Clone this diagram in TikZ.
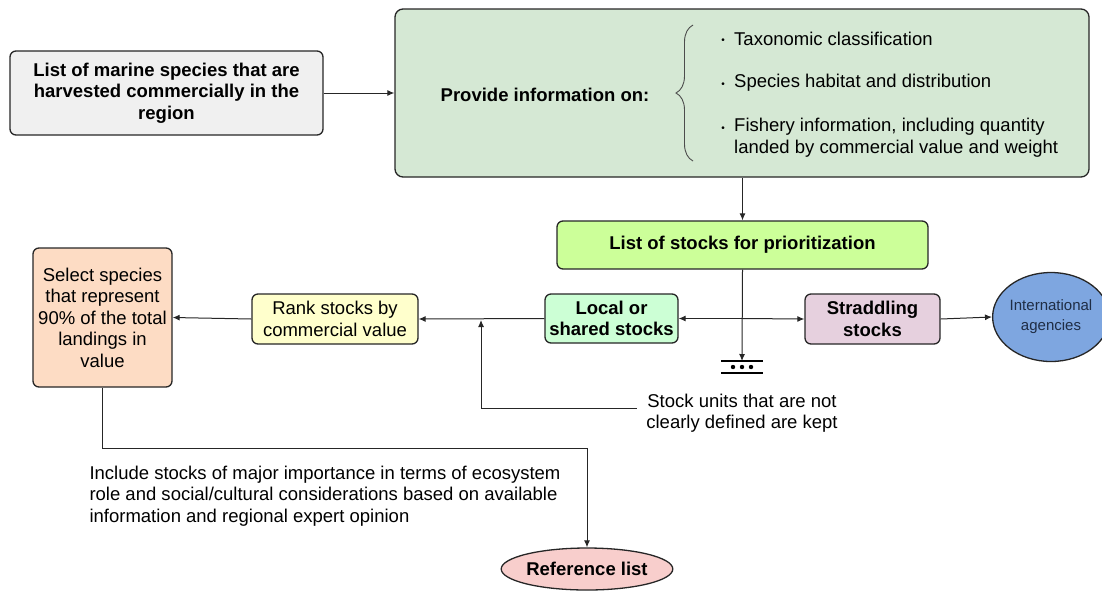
\documentclass[tikz,border=0pt]{standalone}
\usepackage{fontspec}
\setmainfont{Liberation Sans}
\usepackage{tikz}
\usetikzlibrary{shapes,arrows.meta,positioning,calc,decorations.pathreplacing}

\definecolor{speciesfill}{HTML}{F0F0F0}
\definecolor{infofill}{HTML}{D5E8D4}
\definecolor{stocksfill}{HTML}{CCFF99}
\definecolor{localfill}{HTML}{CCFFD5}
\definecolor{straddlefill}{HTML}{E6D0DE}
\definecolor{agencyfill}{HTML}{7EA6E0}
\definecolor{agencytext}{HTML}{1F2D45}
\definecolor{rankfill}{HTML}{FFFFCC}
\definecolor{selectfill}{HTML}{FDDCC4}
\definecolor{reffill}{HTML}{F8CECC}

\begin{document}
\begin{tikzpicture}[
    x=1pt, y=-1pt,
    txt/.style={font=\fontsize{18.5}{21.5}\selectfont},
    bold/.style={font=\fontsize{18.5}{21.5}\selectfont\bfseries},
    box/.style={rectangle, draw=black!85, line width=1.3pt, rounded corners=6pt, align=center, inner sep=0pt},
    oval/.style={ellipse, draw=black!85, line width=1.3pt, align=center, inner sep=0pt},
    item/.style={txt, anchor=west, align=left, inner sep=0pt},
    dot/.style={font=\fontsize{10}{10}\selectfont, inner sep=0pt},
    line/.style={draw=black!85, -{Latex[length=7pt,width=6pt]}, line width=1pt}
]
    \useasboundingbox (0,0) rectangle (1102,590);

    % top row
    \node [box, bold, fill=speciesfill, minimum width=313pt, minimum height=84pt] (species) at (166.5,93) {List of marine species that are\\harvested commercially in the\\region};
    \node [box, fill=infofill, rounded corners=8pt, minimum width=694pt, minimum height=168pt] (info) at (742,93) {};
    \node [bold] (provide) at (545,95) {Provide information on:};

    \node [dot] (d1) at (723,41) {\textbullet};
    \node [dot] (d2) at (723,85) {\textbullet};
    \node [dot] (d3) at (723,129) {\textbullet};
    \node [item] (taxo) at (734,39) {Taxonomic classification};
    \node [item] (habitat) at (734,83) {Species habitat and distribution};
    \node [item] (fishery) at (734,137.5) {Fishery information, including quantity\\landed by commercial value and weight};
    \draw [line width=0.9pt, draw=black!70, decorate, decoration={brace, amplitude=17pt, aspect=0.5}] (693,161) -- (693,25);

    % middle row
    \node [box, bold, fill=stocksfill, minimum width=371pt, minimum height=48pt] (stocks) at (742.5,245) {List of stocks for prioritization};
    \node [box, bold, fill=localfill, minimum width=133pt, minimum height=49pt] (local) at (611.5,318.5) {Local or\\shared stocks};
    \node [box, bold, fill=straddlefill, minimum width=135pt, minimum height=50pt] (straddle) at (872.5,319) {Straddling\\stocks};
    \node [oval, fill=agencyfill, text=agencytext, minimum width=100pt, minimum height=89pt, font=\fontsize{15}{20}\selectfont] (agency) at (1051,317) {International\\agencies};
    \node [box, txt, fill=rankfill, minimum width=166pt, minimum height=50pt] (rank) at (335,319) {Rank stocks by\\commercial value};
    \node [box, txt, fill=selectfill, minimum width=139pt, minimum height=139pt] (select) at (102.5,317.5) {Select species\\that represent\\90\% of the total\\landings in\\value};

    \node [txt, align=center] (kept) at (742,413) {Stock units that are not\\clearly defined are kept};
    \node [txt, align=left, anchor=west] (include) at (86,496) {Include stocks of major importance in terms of ecosystem\\role and social/cultural considerations based on available\\information and regional expert opinion};
    \node [oval, bold, fill=reffill, minimum width=168pt, minimum height=42pt] (ref) at (587,569) {Reference list};

    \coordinate (split) at (stocks.south |- local.east);
    \coordinate (merge) at (481,320);
    \coordinate (gnd) at (742,361);
    \coordinate (bend) at (587,448);

    % connectors
    \draw [line] (species.east) -- (info.west |- species.east);
    \draw [line] (info.south -| stocks.north) -- (stocks.north);
    \draw [line] (stocks.south) -- (gnd);
    \draw [line] (split) -- (local.east);
    \draw [line] (split) -- (straddle.west);
    \draw [line] (straddle.east) -- (agency.west);
    \draw [line] (local.west) -- (rank.east);
    \draw [line] (rank.west) -- (select.east);
    \draw [line] ([xshift=-6pt,yshift=5pt]kept.west) -| (merge);
    \draw [line] (select.south) |- (bend) -- (ref.north);

    % ground mark
    \draw [line width=1.3pt] ($(gnd)+(-21,0)$) -- ($(gnd)+(21,0)$);
    \draw [line width=1.3pt] ($(gnd)+(-21,12)$) -- ($(gnd)+(21,12)$);
    \foreach \dx in {-9,0,9} {
        \fill ($(gnd)+(\dx,6)$) circle (2.2pt);
    }
\end{tikzpicture}
\end{document}
